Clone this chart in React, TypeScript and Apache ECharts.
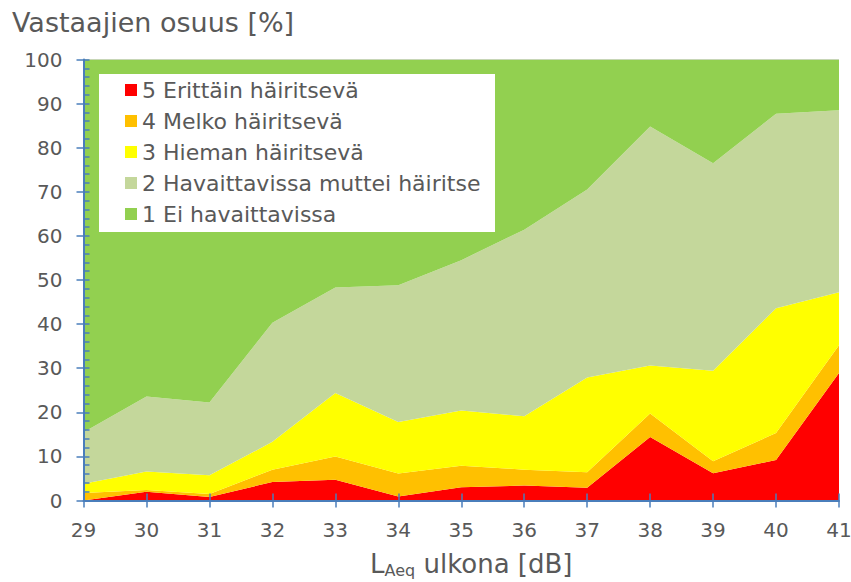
import React, { useEffect, useRef } from "react";
import * as echarts from "echarts";

const categories = ["29", "30", "31", "32", "33", "34", "35", "36", "37", "38", "39", "40", "41"];
const s5 = [0, 2.0, 0.8, 4.2, 4.7, 0.9, 3.0, 3.4, 2.9, 14.4, 6.2, 9.2, 28.9];
const s4 = [1.7, 0.4, 0.7, 2.8, 5.3, 5.2, 4.9, 3.6, 3.5, 5.3, 2.7, 6.1, 6.3];
const s3 = [2.1, 4.2, 4.2, 6.3, 14.4, 11.7, 12.5, 12.1, 21.5, 10.9, 20.5, 28.3, 12.0];
const s2 = [11.7, 17.0, 16.5, 27.0, 23.9, 31.0, 34.1, 42.3, 42.6, 54.2, 47.1, 44.1, 41.3];
const s1 = [84.5, 76.4, 77.8, 59.7, 51.7, 51.2, 45.5, 38.6, 29.5, 15.2, 23.5, 12.3, 11.5];

const seriesNames = [
  "5 Erittäin häiritsevä",
  "4 Melko häiritsevä",
  "3 Hieman häiritsevä",
  "2 Havaittavissa muttei häiritse",
  "1 Ei havaittavissa",
];
const seriesColors = ["#FF0000", "#FFC000", "#FFFF00", "#C4D79B", "#92D050"];
const seriesData = [s5, s4, s3, s2, s1];

const FONT = "DejaVu Sans";
const TEXT = "#595959";
const AXIS = "#4A7EBB";

export default function App() {
  const ref = useRef<HTMLDivElement>(null);
  useEffect(() => {
    document.body.style.margin = "0";
    const chart = echarts.init(ref.current!, null, { renderer: "svg" });
    const option: any = {
      animation: false,
      backgroundColor: "#ffffff",
      title: {
        text: "Vastaajien osuus [%]",
        left: 7,
        top: 4,
        textStyle: { fontFamily: FONT, fontSize: 27, fontWeight: "normal", color: TEXT },
      },
      grid: {
        left: 83.5,
        right: 12,
        top: 59.5,
        bottom: 81.5,
        containLabel: false,
        outerBoundsMode: "none",
      },
      graphic: [
        {
          type: "rect",
          z: 3,
          shape: { x: 99, y: 74, width: 396, height: 158 },
          style: { fill: "#ffffff" },
        },
        {
          type: "line",
          z: 1,
          shape: { x1: 83.5, y1: 59.5, x2: 839, y2: 59.5 },
          style: { stroke: "#D9D9D9", lineWidth: 1 },
        },
      ],
      legend: {
        orient: "vertical",
        left: 125,
        top: 79,
        padding: 0,
        itemGap: 9,
        itemWidth: 12,
        itemHeight: 12,
        icon: "rect",
        z: 5,
        data: seriesNames,
        textStyle: { fontFamily: FONT, fontSize: 22, color: TEXT, lineHeight: 22 },
      },
      xAxis: [
        {
          type: "category",
          data: categories,
          boundaryGap: false,
          z: 4,
          axisLine: { lineStyle: { color: AXIS, width: 2 } },
          axisTick: { show: true, length: 7, lineStyle: { color: AXIS, width: 1.5 } },
          axisLabel: { fontFamily: FONT, fontSize: 20, color: TEXT, margin: 19 },
          splitLine: { show: false },
          name: "{a|L}{b|Aeq}{c| ulkona [dB]}",
          nameLocation: "middle",
          nameGap: 48,
          nameTextStyle: {
            padding: [0, 0, 0, 20],
            rich: {
              a: { fontFamily: FONT, fontSize: 26, color: TEXT, lineHeight: 30, verticalAlign: "middle" },
              b: { fontFamily: FONT, fontSize: 16, color: TEXT, lineHeight: 16, verticalAlign: "bottom" },
              c: { fontFamily: FONT, fontSize: 26, color: TEXT, lineHeight: 30, verticalAlign: "middle" },
            },
          },
        },
        {
          type: "category",
          data: categories,
          boundaryGap: false,
          position: "bottom",
          z: 4,
          axisLine: { show: false },
          axisTick: { show: true, inside: true, length: 7, lineStyle: { color: AXIS, width: 1.5 } },
          axisLabel: { show: false },
          splitLine: { show: false },
        },
      ],
      yAxis: [
        {
          type: "value",
          min: 0,
          max: 100,
          interval: 10,
          z: 4,
          axisLine: { show: true, lineStyle: { color: AXIS, width: 2 } },
          axisTick: { show: true, length: 7, lineStyle: { color: AXIS, width: 1.5 } },
          axisLabel: { fontFamily: FONT, fontSize: 20, color: TEXT, margin: 21 },
          splitLine: { show: false },
        },
        {
          type: "value",
          min: 0,
          max: 100,
          interval: 10,
          position: "left",
          z: 4,
          axisLine: { show: false },
          axisTick: { show: true, inside: true, length: 6, lineStyle: { color: AXIS, width: 1.5 } },
          minorTick: { show: true, splitNumber: 5, length: 6, lineStyle: { color: AXIS, width: 1.5 } },
          axisLabel: { show: false },
          splitLine: { show: false },
        },
      ],
      series: seriesNames.map((name, i) => ({
        name,
        type: "line",
        stack: "total",
        xAxisIndex: 0,
        yAxisIndex: 0,
        symbol: "none",
        z: 2,
        lineStyle: { width: 0, color: seriesColors[i] },
        itemStyle: { color: seriesColors[i] },
        areaStyle: { color: seriesColors[i], opacity: 1 },
        data: seriesData[i],
      })),
    };
    chart.setOption(option);
    return () => chart.dispose();
  }, []);
  return <div ref={ref} style={{ width: 851, height: 582 }} />;
}
